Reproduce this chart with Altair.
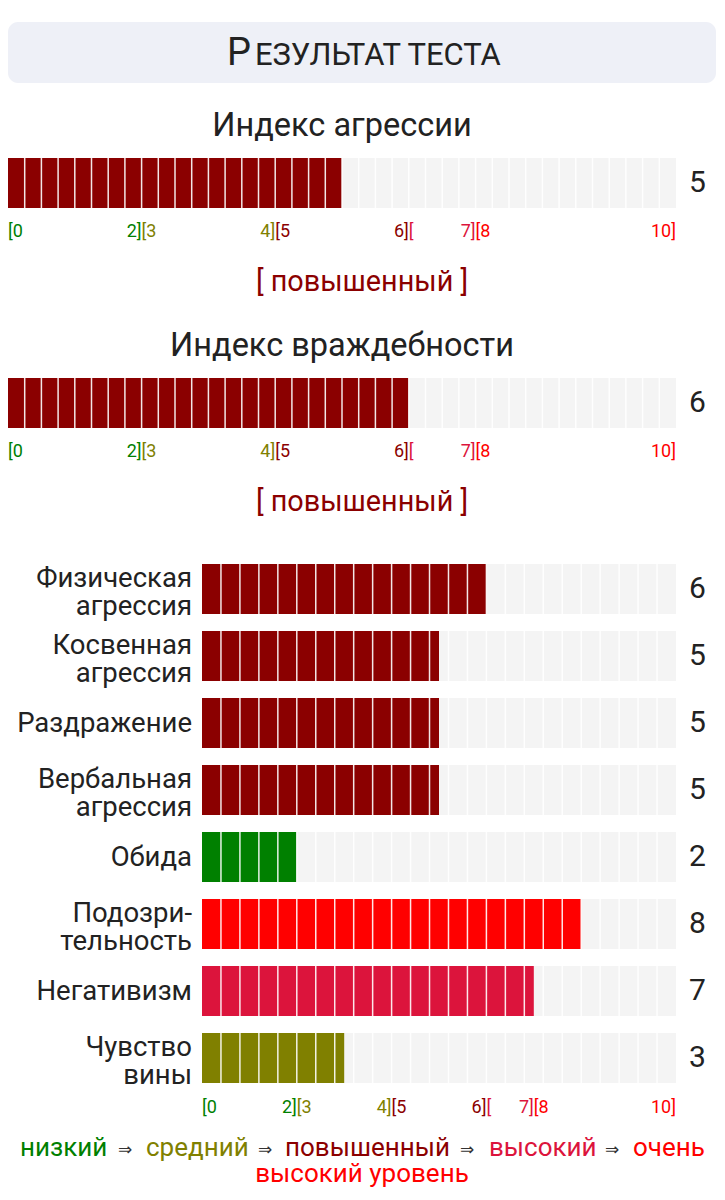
import altair as alt
import pandas as pd
import numpy as np

# ---------------- data ----------------
index_names = ["Индекс агрессии", "Индекс враждебности"]
index_values = [5, 6]

scale_names = ["Физическая\nагрессия", "Косвенная\nагрессия", "Раздражение",
               "Вербальная\nагрессия", "Обида", "Подозри-\nтельность",
               "Негативизм", "Чувство\nвины"]
scale_values = [6, 5, 5, 5, 2, 8, 7, 3]

level_names = ["низкий", "средний", "повышенный", "высокий", "очень высокий уровень"]
level_colors = ["#008000", "#808000", "#8b0000", "#dc143c", "#ff0000"]
level_upper = [2, 4, 6, 7, 10]

tick_values = [0, 2, 2, 4, 4, 6, 6, 7, 7, 10]
tick_labels = ["[0", "2]", "[3", "4]", "[5", "6]", "[", "7]", "[8", "10]"]
tick_levels = [0, 0, 1, 1, 2, 2, 3, 3, 4, 4]

title_first = "Р"
title_rest = "ЕЗУЛЬТАТ ТЕСТА"
scale_max = 10

# ---------------- helpers ----------------
def level_of(v):
    for i, u in enumerate(level_upper):
        if v <= u:
            return i
    return len(level_upper) - 1

W, H = 709, 1184
GREY = "#f4f4f4"
TXT = "#222222"
FONT = "Roboto"

df_top = pd.DataFrame({
    "name": index_names,
    "value": index_values,
    "start": 0,
    "end": scale_max,
    "color": [level_colors[level_of(v)] for v in index_values],
    "level": ["[ " + level_names[level_of(v)] + " ]" for v in index_values],
})
df_bot = pd.DataFrame({
    "name": scale_names,
    "value": scale_values,
    "start": 0,
    "end": scale_max,
    "color": [level_colors[level_of(v)] for v in scale_values],
    "multi": ["\n" in n for n in scale_names],
})

top_step = 0.25
bot_step = 0.4
top_seg = pd.DataFrame([(n, p) for n in index_names
                        for p in np.arange(top_step, scale_max - 1e-9, top_step)],
                       columns=["name", "pos"])
bot_seg = pd.DataFrame([(n, p) for n in scale_names
                        for p in np.arange(bot_step, scale_max - 1e-9, bot_step)],
                       columns=["name", "pos"])

ticks = pd.DataFrame({"v": tick_values, "t": tick_labels,
                      "color": [level_colors[i] for i in tick_levels],
                      "side": ["left" if t.startswith("[") else "right" for t in tick_labels]})
top_ticks = pd.concat([ticks.assign(name=n) for n in index_names], ignore_index=True)
bot_ticks = ticks.assign(name=scale_names[-1])

# ---------------- scales ----------------
x_top = alt.Scale(domain=[0, scale_max], range=[0, 668])
x_bot = alt.Scale(domain=[0, scale_max], range=[194, 668])
y_top = alt.Scale(domain=index_names, range=[65, 505],
                  paddingInner=170 / 220, paddingOuter=85 / 220)
y_bot = alt.Scale(domain=scale_names, range=[547.5, 1083.5],
                  paddingInner=17 / 67, paddingOuter=8.5 / 67)


def bars(df, seg, xs, ys, seg_h):
    Y = alt.Y("name:N", scale=ys, axis=None, sort=None)
    bg = alt.Chart(df).mark_rect(color=GREY).encode(
        x=alt.X("start:Q", scale=xs, axis=None), x2="end:Q", y=Y)
    fill = alt.Chart(df).mark_rect().encode(
        x=alt.X("start:Q", scale=xs, axis=None), x2="value:Q", y=Y,
        color=alt.Color("color:N", scale=None))
    sep = alt.Chart(seg).mark_tick(color="white", thickness=1.5, size=seg_h, opacity=0.9).encode(
        x=alt.X("pos:Q", scale=xs, axis=None), y=Y)
    vals = alt.Chart(df.drop(columns=[c for c in ["multi"] if c in df.columns])).mark_text(
        align="left", baseline="middle", fontSize=30, color=TXT, font=FONT).encode(
        x=alt.value(681), y=Y, text="value:Q")
    return [bg, fill, sep, vals]


def tick_layers(df, xs, ys, dy):
    out = []
    for side in ["left", "right"]:
        out.append(alt.Chart(df[df.side == side]).mark_text(
            align=side, baseline="middle", fontSize=18, dy=dy, font=FONT).encode(
            x=alt.X("v:Q", scale=xs, axis=None),
            y=alt.Y("name:N", scale=ys, axis=None, sort=None),
            text="t:N", color=alt.Color("color:N", scale=None)))
    return out


Ytop = alt.Y("name:N", scale=y_top, axis=None, sort=None)
Ybot = alt.Y("name:N", scale=y_bot, axis=None, sort=None)

# title box
one = pd.DataFrame({"a": [title_first], "b": [title_rest]})
title_box = alt.Chart(one).mark_rect(color="#eef0f7", cornerRadius=10).encode(
    x=alt.value(0), x2=alt.value(708), y=alt.value(14), y2=alt.value(75))
title_a = alt.Chart(one).mark_text(align="left", baseline="alphabetic", fontSize=38,
                                   color=TXT, font=FONT).encode(
    x=alt.value(219), y=alt.value(57), text="a:N")
title_b = alt.Chart(one).mark_text(align="left", baseline="alphabetic", fontSize=31,
                                   color=TXT, font=FONT).encode(
    x=alt.value(247), y=alt.value(57), text="b:N")

headings = alt.Chart(df_top).mark_text(baseline="middle", fontSize=32.5, dy=-57,
                                       color=TXT, font=FONT).encode(
    x=alt.value(334), y=Ytop, text="name:N")
levels = alt.Chart(df_top).mark_text(baseline="middle", fontSize=28.8, dy=99,
                                     font=FONT).encode(
    x=alt.value(354), y=Ytop, text="level:N", color=alt.Color("color:N", scale=None))

bot_labels = [
    alt.Chart(df_bot[df_bot.multi == m].drop(columns=["multi"])).mark_text(
        align="right", baseline="middle", fontSize=27.5, lineHeight=28, lineBreak="\n",
        dy=(-10 if m else 1), color=TXT, font=FONT).encode(
        x=alt.value(184), y=Ybot, text="name:N")
    for m in [True, False]
]

# legend
leg_rows = []
lx = [12, 138, 277, 481]
ax = [110, 250, 452, 597]
for i in range(4):
    leg_rows.append({"t": level_names[i], "c": level_colors[i], "x": lx[i], "y": 1140, "s": 26})
    leg_rows.append({"t": "⇒", "c": "#333333", "x": ax[i], "y": 1142, "s": 17})
last = level_names[4].split(" ", 1)
leg = pd.DataFrame(leg_rows)
legend_words = alt.Chart(leg[leg.s == 26]).mark_text(align="left", baseline="middle",
                                                     fontSize=26, font=FONT).encode(
    x=alt.X("x:Q", scale=None), y=alt.Y("y:Q", scale=None), text="t:N",
    color=alt.Color("c:N", scale=None))
legend_arrows = alt.Chart(leg[leg.s == 17]).mark_text(align="left", baseline="middle",
                                                      fontSize=17, font="DejaVu Sans").encode(
    x=alt.X("x:Q", scale=None), y=alt.Y("y:Q", scale=None), text="t:N",
    color=alt.Color("c:N", scale=None))
last_df = pd.DataFrame({"t": last, "c": [level_colors[4]] * 2})
legend_last1 = alt.Chart(last_df.iloc[[0]]).mark_text(align="left", baseline="middle",
                                                      fontSize=26, font=FONT).encode(
    x=alt.value(625), y=alt.value(1140), text="t:N", color=alt.Color("c:N", scale=None))
legend_last2 = alt.Chart(last_df.iloc[[1]]).mark_text(align="center", baseline="middle",
                                                      fontSize=26, font=FONT).encode(
    x=alt.value(354), y=alt.value(1166), text="t:N", color=alt.Color("c:N", scale=None))

layers = ([title_box, title_a, title_b, headings, levels]
          + bars(df_top, top_seg, x_top, y_top, 50)
          + tick_layers(top_ticks, x_top, y_top, 49)
          + bars(df_bot, bot_seg, x_bot, y_bot, 50)
          + tick_layers(bot_ticks, x_bot, y_bot, 50)
          + bot_labels
          + [legend_words, legend_arrows, legend_last1, legend_last2])

chart = alt.layer(*layers).resolve_scale(
    x="independent", y="independent", color="independent"
).properties(
    width=W, height=H, padding=0, autosize=alt.AutoSizeParams(type="none")
).configure_view(stroke="transparent")

chart.save("out.html", embed_options={"renderer": "svg", "actions": False})
